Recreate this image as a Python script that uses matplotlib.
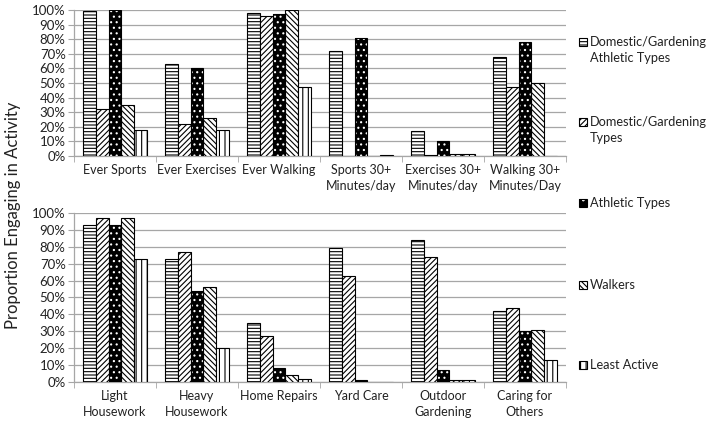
import numpy as np
import matplotlib
matplotlib.use('Agg')
import matplotlib.pyplot as plt
from matplotlib.patches import Rectangle
from matplotlib.ticker import PercentFormatter

plt.rcParams['font.family'] = ['Lato', 'DejaVu Sans']
plt.rcParams['hatch.linewidth'] = 0.8

# data
series = ['Domestic/Gardening\nAthletic Types', 'Domestic/Gardening\nTypes',
          'Athletic Types', 'Walkers', 'Least Active']
top_cats = ['Ever Sports', 'Ever Exercises', 'Ever Walking',
            'Sports 30+\nMinutes/day', 'Exercises 30+\nMinutes/day', 'Walking 30+\nMinutes/Day']
bottom_cats = ['Light\nHousework', 'Heavy\nHousework', 'Home Repairs', 'Yard Care',
               'Outdoor\nGardening', 'Caring for\nOthers']

top_vals = [
    [0.99, 0.63, 0.98, 0.72, 0.17, 0.68],   # DG athletic
    [0.32, 0.22, 0.96, 0.0, 0.01, 0.47],    # DG
    [1.00, 0.60, 0.97, 0.81, 0.10, 0.78],   # athletic
    [0.35, 0.26, 1.00, 0.0, 0.015, 0.50],   # walkers
    [0.18, 0.18, 0.47, 0.005, 0.015, 0.0],  # least active
]
bottom_vals = [
    [0.93, 0.73, 0.35, 0.79, 0.84, 0.42],
    [0.97, 0.77, 0.27, 0.63, 0.74, 0.44],
    [0.93, 0.54, 0.08, 0.01, 0.07, 0.30],
    [0.97, 0.56, 0.04, 0.0, 0.01, 0.31],
    [0.73, 0.20, 0.02, 0.0, 0.01, 0.13],
]

hatches = ['-----', '//////', '...', '\\\\\\\\\\\\', '|||']
grid_col = '#a6a6a6'

fig = plt.figure(figsize=(7.14, 4.30), dpi=100)
ax_top = fig.add_axes([0.1036, 0.6372, 0.6891, 0.3395])
ax_bot = fig.add_axes([0.1036, 0.1116, 0.6891, 0.3931])

width = 0.154


def draw_panel(ax, cats, vals):
    x = np.arange(len(cats))
    for i, v in enumerate(vals):
        pos = x + (i - 2) * width
        if i == 2:
            ax.bar(pos, v, width, facecolor='black', edgecolor='white',
                   hatch=hatches[i], linewidth=0, zorder=3)
            ax.bar(pos, v, width, fill=False, edgecolor='black', linewidth=0.8, zorder=4)
        else:
            ax.bar(pos, v, width, facecolor='white', edgecolor='black',
                   hatch=hatches[i], linewidth=0.8, zorder=3)
    ax.set_xlim(-0.5, len(cats) - 0.5)
    ax.set_ylim(0, 1)
    ax.set_yticks(np.arange(0, 1.01, 0.1))
    ax.yaxis.set_major_formatter(PercentFormatter(1.0, decimals=0))
    ax.set_xticks(x)
    ax.set_xticklabels(cats, fontsize=9, color='#222222', linespacing=1.4)
    ax.set_xticks(np.arange(-0.5, len(cats), 1), minor=True)
    ax.tick_params(axis='x', which='major', length=0, pad=6)
    ax.tick_params(axis='x', which='minor', length=4, color=grid_col)
    ax.tick_params(axis='y', length=4, color=grid_col, labelsize=9.5, labelcolor='#222222', pad=2)
    ax.yaxis.grid(True, color=grid_col, linewidth=0.9, zorder=0)
    ax.set_axisbelow(True)
    for s in ['top', 'right']:
        ax.spines[s].set_visible(False)
    for s in ['left', 'bottom']:
        ax.spines[s].set_color(grid_col)
        ax.spines[s].set_linewidth(0.9)


draw_panel(ax_top, top_cats, top_vals)
draw_panel(ax_bot, bottom_cats, bottom_vals)

fig.text(0.018, 0.50, 'Proportion Engaging in Activity', rotation=90,
         ha='center', va='center', fontsize=12, color='#222222')

# legend column on the right
leg_y = [50, 130, 203, 285, 365]
for i, lab in enumerate(series):
    yc = 1 - leg_y[i] / 430
    first_line = yc + (8 / 430 if '\n' in lab else 0)
    box = (579 / 714, first_line - 4 / 430)
    if i == 2:
        fig.patches.append(Rectangle(box, 8 / 714, 8 / 430, transform=fig.transFigure,
                                     facecolor='black', edgecolor='white',
                                     hatch='..', linewidth=0))
        fig.patches.append(Rectangle(box, 8 / 714, 8 / 430, transform=fig.transFigure,
                                     fill=False, edgecolor='black', linewidth=0.8))
    else:
        fig.patches.append(Rectangle(box, 8 / 714, 8 / 430, transform=fig.transFigure,
                                     facecolor='white', edgecolor='black',
                                     hatch=hatches[i], linewidth=0.8))
    fig.text(590 / 714, yc, lab, ha='left', va='center', fontsize=9.2,
             color='#222222', linespacing=1.4)

fig.savefig('out.png', dpi=100, facecolor='white')
